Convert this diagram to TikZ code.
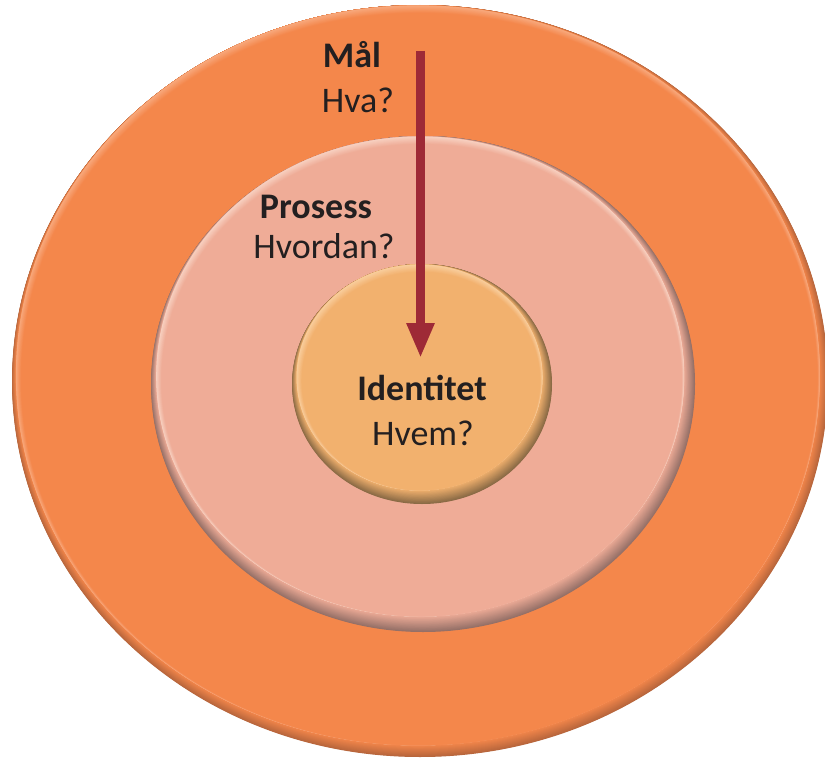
\documentclass[tikz,border=0pt]{standalone}
\usepackage{fontspec}
\setmainfont{Carlito}
\usetikzlibrary{arrows.meta}
\definecolor{txt}{HTML}{231F20}
\definecolor{outerM}{HTML}{F4874B}
\definecolor{outerD}{HTML}{B8663C}
\definecolor{outerL}{HTML}{F8AA7E}
\definecolor{midM}{HTML}{EFAC97}
\definecolor{midD}{HTML}{957067}
\definecolor{midL}{HTML}{F8D2C2}
\definecolor{inM}{HTML}{F2B16E}
\definecolor{inD}{HTML}{8A6A45}
\definecolor{inL}{HTML}{F9CF9E}
\definecolor{arrowC}{HTML}{9E2A36}
% #1 cx, #2 cy, #3 rx, #4 ry, #5 main, #6 dark, #7 light, #8 dark shift, #9 light shift
\newcommand{\bevdisc}[9]{%
  \foreach \k in {0,...,24}{%
    \pgfmathsetmacro\s{#8*\k/24}%
    \pgfmathtruncatemacro\p{100*\k/24}%
    \fill[#5!\p!#6] ({#1-0.35*\s},{#2-0.94*\s}) ellipse [x radius={#3-\s}, y radius={#4-\s}];
  }%
  \foreach \k in {0,...,20}{%
    \pgfmathsetmacro\t{#9*\k/20}%
    \pgfmathtruncatemacro\p{5*\k}%
    \fill[#5!\p!#7] ({#1-0.35*#8+0.35*\t},{#2-0.94*#8+0.94*\t}) ellipse [x radius={#3-#8-\t}, y radius={#4-#8-\t}];
  }%
}
\begin{document}
\begin{tikzpicture}[x=1pt,y=-1pt,
  lbl/.style={anchor=base, inner sep=0pt, text=txt, font=\fontsize{36}{42}\selectfont},
  ttl/.style={anchor=base, inner sep=0pt, text=txt, font=\fontsize{36}{42}\selectfont\bfseries},
  arr/.style={draw=arrowC, line width=8.5pt, -{Triangle[width=26pt,length=35pt]}}]
\useasboundingbox (0,0) rectangle (825,760);
\clip (0,0) rectangle (825,760);
\fill[white] (0,0) rectangle (825,760);
% discs
\bevdisc{420}{381}{408}{376}{outerM}{outerD}{outerL}{6}{4}
\bevdisc{423}{384}{272}{248}{midM}{midD}{midL}{8}{4}
\bevdisc{422}{384}{130}{120}{inM}{inD}{inL}{7}{4}
% texts
\node[ttl] (mal) at (352,67) {Mål};
\node[lbl] (hva) at (358,113) {Hva?};
\node[ttl] (prosess) at (316,218) {Prosess};
\node[lbl] (hvordan) at (324,258) {Hvordan?};
\node[ttl] (identitet) at (422,400) {Identitet};
\node[lbl] (hvem) at (423,445) {Hvem?};
% arrow
\coordinate (arrowstart) at (420.5,51);
\coordinate (arrowend) at (420.5,358);
\draw[arr] (arrowstart) -- (arrowend);
\end{tikzpicture}
\end{document}
